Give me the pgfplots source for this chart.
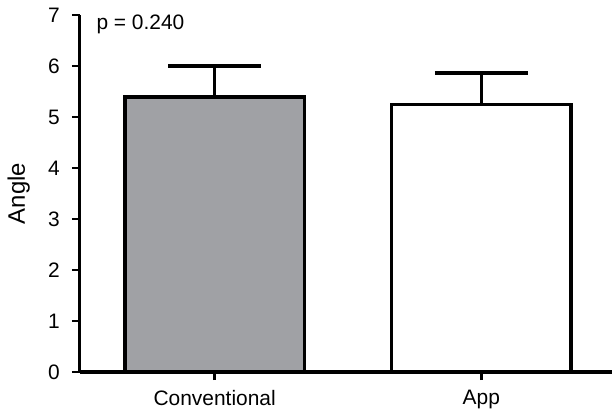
\documentclass[border=0pt]{standalone}
\usepackage{pgfplots}
\pgfplotsset{compat=1.18}
\usepackage{fontspec}
\setmainfont{Liberation Sans}
\definecolor{bargray}{RGB}{160,161,165}
\begin{document}
\fontsize{21}{25}\selectfont
\begin{tikzpicture}
\begin{axis}[
 scale only axis, width=532bp, height=357bp,
 xmin=-0.505, xmax=1.49, ymin=0, ymax=7,
 axis x line=bottom, axis y line=left,
 axis line style={line width=3bp, -},
 xtick={0,1}, xticklabels={Conventional,App},
 ytick={0,1,2,3,4,5,6,7},
 tick align=outside, major tick length=8bp,
 tick style={line width=2.5bp, black},
 ylabel=Angle,
 ylabel style={at={(axis description cs:-0.115,0.5)}, anchor=center, font=\fontsize{24}{28}\selectfont},
 /pgf/number format/assume math mode=true,
 ticklabel style={font=\fontsize{21}{25}\selectfont},
 yticklabel style={xshift=-5bp},
 xticklabel style={yshift=-3bp},
 clip=false,
]
\addplot[ybar, bar width=0.674, bar shift=0pt, fill=bargray, draw=black, line width=3.5bp,
  error bars/.cd, y dir=plus, y explicit,
  error bar style={line width=3.5bp, black},
  error mark options={rotate=90, mark size=46.5bp, line width=3.5bp, black}]
  coordinates {(0,5.39) +- (0,0.61)};
\addplot[ybar, bar width=0.674, bar shift=0pt, fill=white, draw=black, line width=3.5bp,
  error bars/.cd, y dir=plus, y explicit,
  error bar style={line width=3.5bp, black},
  error mark options={rotate=90, mark size=46.5bp, line width=3.5bp, black}]
  coordinates {(1,5.25) +- (0,0.61)};
\node[anchor=west, font=\fontsize{21}{25}\selectfont] at (axis cs:-0.47,6.82) {p = 0.240};
\end{axis}
\pgfresetboundingbox
\path[use as bounding box] (-80bp,-39bp) rectangle (532bp,372bp);
\end{tikzpicture}
\end{document}
